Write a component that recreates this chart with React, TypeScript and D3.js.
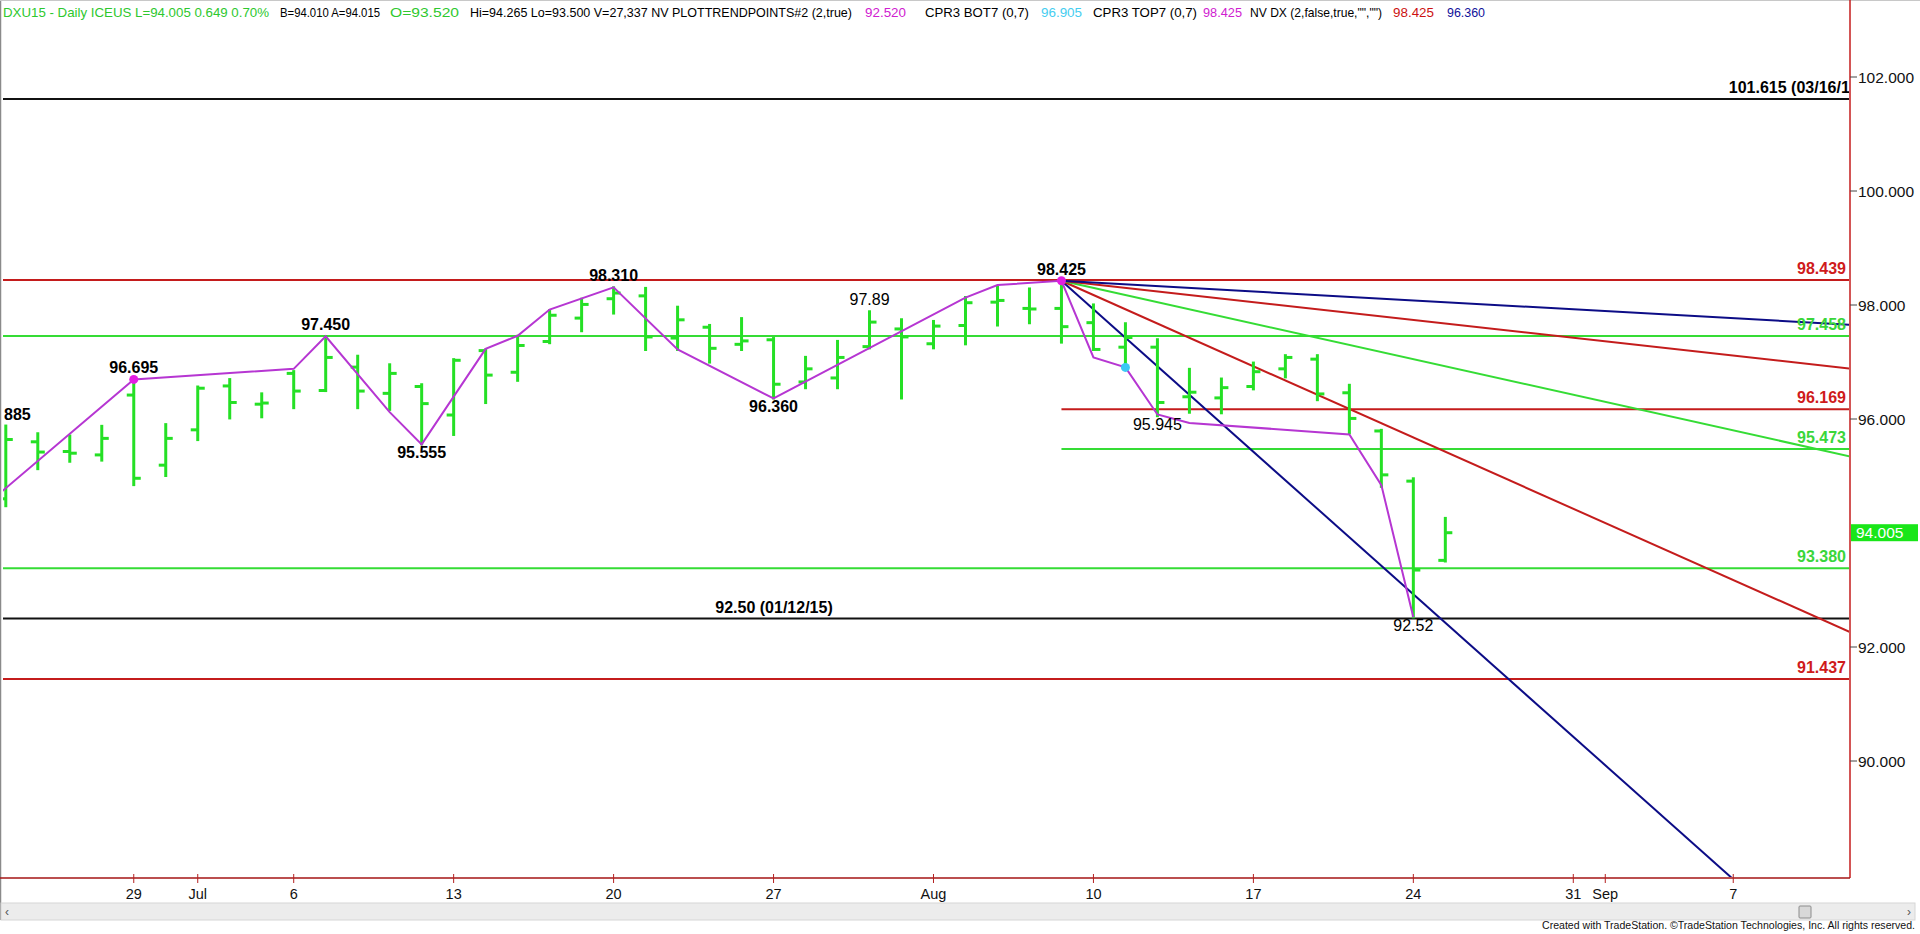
import React from 'react';
import * as d3 from 'd3';

// ---------- DATA ----------
const dates = [
  "2015-06-23","2015-06-24","2015-06-25","2015-06-26",
  "2015-06-29","2015-06-30","2015-07-01","2015-07-02","2015-07-03",
  "2015-07-06","2015-07-07","2015-07-08","2015-07-09","2015-07-10",
  "2015-07-13","2015-07-14","2015-07-15","2015-07-16","2015-07-17",
  "2015-07-20","2015-07-21","2015-07-22","2015-07-23","2015-07-24",
  "2015-07-27","2015-07-28","2015-07-29","2015-07-30","2015-07-31",
  "2015-08-03","2015-08-04","2015-08-05","2015-08-06","2015-08-07",
  "2015-08-10","2015-08-11","2015-08-12","2015-08-13","2015-08-14",
  "2015-08-17","2015-08-18","2015-08-19","2015-08-20","2015-08-21",
  "2015-08-24","2015-08-25"
];
const opens = [
  94.60, 95.60, 95.43, 95.37,
  96.42, 95.19, 95.81, 96.58, 96.26,
  96.80, 96.50, 96.91, 96.45, 96.57,
  96.07, 97.20, 96.82, 97.36, 97.77,
  98.11, 98.16, 97.42, 97.61, 97.31,
  97.39, 96.65, 96.72, 97.27, 97.58,
  97.32, 97.64, 98.05, 97.94, 97.94,
  97.69, 97.26, 97.26, 96.39, 96.37,
  96.57, 96.88, 97.05, 96.46, 95.79,
  94.91, 93.52
];
const highs = [
  95.885, 95.75, 95.71, 95.88,
  96.695, 95.91, 96.57, 96.70, 96.45,
  96.84, 97.45, 97.11, 96.96, 96.61,
  97.05, 97.22, 97.46, 97.91, 98.11,
  98.31, 98.30, 97.97, 97.65, 97.77,
  97.42, 97.09, 97.37, 97.89, 97.75,
  97.72, 98.14, 98.32, 98.29, 98.425,
  98.01, 97.68, 97.40, 96.88, 96.71,
  96.99, 97.12, 97.12, 96.60, 95.81,
  94.96, 94.265
];
const lows = [
  94.47, 95.12, 95.25, 95.27,
  94.84, 95.00, 95.63, 96.01, 96.03,
  96.19, 96.49, 96.19, 96.16, 95.555,
  95.72, 96.28, 96.67, 97.33, 97.54,
  97.85, 97.21, 97.21, 96.99, 97.21,
  96.36, 96.54, 96.54, 97.24, 96.36,
  97.24, 97.31, 97.64, 97.68, 97.34,
  97.21, 96.95, 96.05, 96.11, 96.10,
  96.52, 96.73, 96.33, 95.75, 94.81,
  92.52, 93.50
];
const closes = [
  95.64, 95.42, 95.40, 95.66,
  94.96, 95.66, 96.54, 96.29, 96.28,
  96.49, 97.08, 96.49, 96.80, 96.27,
  97.03, 96.77, 97.29, 97.82, 98.01,
  98.21, 97.44, 97.74, 97.24, 97.37,
  96.61, 96.88, 97.08, 97.70, 97.44,
  97.63, 98.04, 98.08, 97.93, 97.62,
  97.22, 97.43, 96.29, 96.47, 96.55,
  96.83, 97.08, 96.44, 96.01, 95.02,
  93.35, 94.005
];

// swing line (purple)
const swingDates = [
  "2015-06-22","2015-06-29","2015-07-06","2015-07-07","2015-07-09","2015-07-10",
  "2015-07-14","2015-07-15","2015-07-16","2015-07-20","2015-07-22","2015-07-27",
  "2015-08-04","2015-08-05","2015-08-07","2015-08-10","2015-08-11","2015-08-12",
  "2015-08-13","2015-08-20","2015-08-21","2015-08-24"
];
const swingValues = [
  94.31, 96.695, 96.88, 97.45, 96.12, 95.555,
  97.23, 97.46, 97.92, 98.31, 97.22, 96.36,
  98.13, 98.35, 98.425, 97.08, 96.905, 96.08,
  95.93, 95.73, 94.84, 92.52
];

// pivot labels (the first one is cut by the left edge in the original: only "885" shows)
const pivotDates = ["2015-06-23","2015-06-29","2015-07-07","2015-07-10","2015-07-20","2015-07-27","2015-07-30","2015-08-07","2015-08-12","2015-08-24"];
const pivotTexts = ["885","96.695","97.450","95.555","98.310","96.360","97.89","98.425","95.945","92.52"];
const pivotSides = ["high","high","high","low","high","low","high","high","low","low"];
const pivotRegular = new Set(["97.89","95.945","92.52"]);

// horizontal levels
const levelValues = [101.615, 98.439, 97.458, 96.169, 95.473, 93.380, 92.50, 91.437];
const levelTexts = ["101.615 (03/16/15)","98.439","97.458","96.169","95.473","93.380","92.50 (01/12/15)","91.437"];
const levelStart = [null, null, null, "2015-08-07", "2015-08-07", null, null, null];
const levelKinds = ["black","red","green","red","green","green","black","red"];

// fan lines from the 98.425 top (price change per bar)
const fanOriginDate = "2015-08-07";
const fanOriginValue = 98.425;
const fanSlopes = [0.5, 0.25, 0.125, 0.0625, 0.03125];
const fanKinds = ["navy","red","green","red","navy"];

// markers
const dotDates = ["2015-06-29","2015-08-07","2015-08-11"];
const dotValues = [96.695, 98.425, 96.905];
const dotKinds = ["magenta","magenta","cyan"];

// axes
const xTickDates = ["2015-06-29","2015-07-01","2015-07-06","2015-07-13","2015-07-20","2015-07-27","2015-08-03","2015-08-10","2015-08-17","2015-08-24","2015-08-31","2015-09-01","2015-09-07"];
const xTickLabels = ["29","Jul","6","13","20","27","Aug","10","17","24","31","Sep","7"];
const yTicks = [90, 92, 96, 98, 100, 102];
const lastPrice = 94.005;

// header texts
const headerTexts = [
  "DXU15 - Daily ICEUS L=94.005 0.649 0.70%",
  "B=94.010 A=94.015",
  "O=93.520",
  "Hi=94.265 Lo=93.500 V=27,337 NV PLOTTRENDPOINTS#2 (2,true)",
  "92.520",
  "CPR3 BOT7 (0,7)",
  "96.905",
  "CPR3 TOP7 (0,7)",
  "98.425",
  "NV DX (2,false,true,\"\",\"\")",
  "98.425",
  "96.360",
];

// ---------- STYLE ----------
const COLORS: Record<string, string> = {
  green: "#35dc35",
  bar: "#25e025",
  red: "#c41c1c",
  navy: "#0c0c86",
  black: "#111111",
  magenta: "#e21ee2",
  cyan: "#3cc8f5",
  purple: "#b636d2",
};
const LABEL_COLORS: Record<string, string> = {
  green: "#3ad63a",
  red: "#cf1b1b",
  black: "#000000",
};
const HEADER_X = [3, 280, 390, 470, 865, 925, 1041, 1093, 1203, 1250, 1393, 1447];
const HEADER_W = [266, 100, 69, 382, 41, 104, 41, 104, 39, 132, 41, 38];
const HEADER_C = ["#2ec82e", "#000", "#2ec82e", "#000", "#d020d0", "#000", "#45cdf0", "#000", "#d020d0", "#000", "#cc1111", "#10109a"];
const FONT = "'Liberation Sans', Arial, Helvetica, sans-serif";

const BASE = Date.UTC(2015, 5, 29);
function tIndex(s: string): number {
  const [yy, mm, dd] = s.split("-").map(Number);
  const diff = Math.round((Date.UTC(yy, mm - 1, dd) - BASE) / 86400000);
  const w = Math.floor(diff / 7);
  const r = diff - w * 7;
  return w * 5 + Math.min(r, 5);
}

const AXIS_X = 1850;
const AXIS_Y = 878;

export default function App() {
  const x = d3.scaleLinear().domain([-4.15, 53.65]).range([1, AXIS_X]);
  const y = d3.scaleLinear().domain([90, 102]).range([761, 77]);

  const swingLine = d3.line<number>()
    .x((_, i) => x(tIndex(swingDates[i])))
    .y((v) => y(v));

  const fx0 = tIndex(fanOriginDate);
  const fanEnd = 56;

  return (
    <svg width={1920} height={934} style={{ position: "absolute", left: 0, top: 0, background: "#fff" }} fontFamily={FONT}>
      <defs>
        <clipPath id="plotClip">
          <rect x={3} y={0} width={AXIS_X - 4} height={AXIS_Y - 1} />
        </clipPath>
      </defs>
      <rect x={0} y={0} width={1920} height={934} fill="#fff" />

      <g clipPath="url(#plotClip)">
        {/* horizontal levels */}
        {levelValues.map((v, i) => (
          <line key={"lv" + i}
            x1={levelStart[i] ? x(tIndex(levelStart[i] as string)) : 0}
            x2={AXIS_X}
            y1={y(v)} y2={y(v)}
            stroke={COLORS[levelKinds[i]]} strokeWidth={2} />
        ))}
        {/* fan lines */}
        {fanSlopes.map((s, i) => (
          <line key={"fan" + i}
            x1={x(fx0)} y1={y(fanOriginValue)}
            x2={x(fanEnd)} y2={y(fanOriginValue - s * (fanEnd - fx0))}
            stroke={COLORS[fanKinds[i]]} strokeWidth={2} />
        ))}
        {/* bars */}
        {dates.map((d, i) => {
          const cx = x(tIndex(d));
          return (
            <g key={"b" + i} stroke={COLORS.bar} strokeWidth={3}>
              <line x1={cx} x2={cx} y1={y(highs[i]) - 1} y2={y(lows[i]) + 1} />
              <line x1={cx - 7} x2={cx} y1={y(opens[i])} y2={y(opens[i])} />
              <line x1={cx} x2={cx + 7} y1={y(closes[i])} y2={y(closes[i])} />
            </g>
          );
        })}
        {/* swing line */}
        <path d={swingLine(swingValues) || ""} fill="none" stroke={COLORS.purple} strokeWidth={2} />
        {/* dots */}
        {dotDates.map((d, i) => (
          <circle key={"dot" + i} cx={x(tIndex(d))} cy={y(dotValues[i])} r={4.5} fill={COLORS[dotKinds[i]]} />
        ))}
      </g>

      {/* pivot labels */}
      {pivotDates.map((d, i) => {
        const bi = dates.indexOf(d);
        const isHigh = pivotSides[i] === "high";
        const py = isHigh ? y(highs[bi]) - 6 : y(lows[bi]) + 14;
        const first = i === 0;
        return (
          <text key={"pl" + i} x={first ? 4 : x(tIndex(d))} y={py} textAnchor={first ? "start" : "middle"}
            fontSize={16} fontWeight={pivotRegular.has(pivotTexts[i]) ? 400 : 700} fill="#000">
            {pivotTexts[i]}
          </text>
        );
      })}

      {/* level labels */}
      <g clipPath="url(#plotClip)">
        {levelValues.map((v, i) => {
          const t = levelTexts[i];
          let anchor = "end";
          let lx = 1846;
          if (i === 0) { lx = 1864; }
          if (i === 6) { anchor = "middle"; lx = 774; }
          return (
            <text key={"ll" + i} x={lx} y={y(v) - 6} textAnchor={anchor}
              fontSize={16} fontWeight={700} fill={LABEL_COLORS[levelKinds[i]]}>
              {t}
            </text>
          );
        })}
      </g>

      {/* header */}
      {headerTexts.map((t, i) => (
        <text key={"h" + i} x={HEADER_X[i]} y={17} fontSize={13} fill={HEADER_C[i]}
          textLength={HEADER_W[i]} lengthAdjust="spacingAndGlyphs">{t}</text>
      ))}

      {/* frame */}
      <line x1={0.5} x2={0.5} y1={0} y2={920} stroke="#8a8a8a" strokeWidth={1.5} />
      <line x1={0} x2={1920} y1={0.5} y2={0.5} stroke="#c8c8c8" strokeWidth={1} />

      {/* y axis */}
      <line x1={AXIS_X} x2={AXIS_X} y1={0} y2={AXIS_Y} stroke="#c41c1c" strokeWidth={1.5} />
      {yTicks.map((v) => (
        <g key={"yt" + v}>
          <line x1={AXIS_X} x2={AXIS_X + 7} y1={y(v)} y2={y(v)} stroke="#444" strokeWidth={1} />
          <text x={AXIS_X + 8} y={y(v)} dy="0.36em" fontSize={15.5} fill="#111">{d3.format(".3f")(v)}</text>
        </g>
      ))}
      <rect x={AXIS_X + 1} y={y(lastPrice) - 8.5} width={67} height={17} fill="#19e619" />
      <text x={AXIS_X + 6} y={y(lastPrice)} dy="0.36em" fontSize={15.5} fill="#ffffff">{d3.format(".3f")(lastPrice)}</text>

      {/* x axis */}
      <line x1={0} x2={AXIS_X} y1={AXIS_Y} y2={AXIS_Y} stroke="#a41515" strokeWidth={1.5} />
      {xTickDates.map((d, i) => {
        const tx = x(tIndex(d));
        return (
          <g key={"xt" + i}>
            <line x1={tx} x2={tx} y1={AXIS_Y - 4} y2={AXIS_Y + 5} stroke="#b42020" strokeWidth={1} />
            <text x={tx} y={899} textAnchor="middle" fontSize={14.5} fill="#111">{xTickLabels[i]}</text>
          </g>
        );
      })}

      {/* scrollbar */}
      <rect x={1} y={903} width={1914} height={17} fill="#ececec" stroke="#d6d6d6" strokeWidth={1} />
      <text x={7} y={916} fontSize={12} fill="#555" textAnchor="middle">‹</text>
      <text x={1909} y={916} fontSize={12} fill="#555" textAnchor="middle">›</text>
      <rect x={1799} y={906} width={12} height={12} fill="#d8d8d8" stroke="#8c8c8c" strokeWidth={1} rx={1} />

      {/* footer */}
      <text x={1915} y={929} fontSize={10.5} fill="#111" textAnchor="end" textLength={373} lengthAdjust="spacingAndGlyphs">
        Created with TradeStation. ©TradeStation Technologies, Inc. All rights reserved.
      </text>
    </svg>
  );
}
